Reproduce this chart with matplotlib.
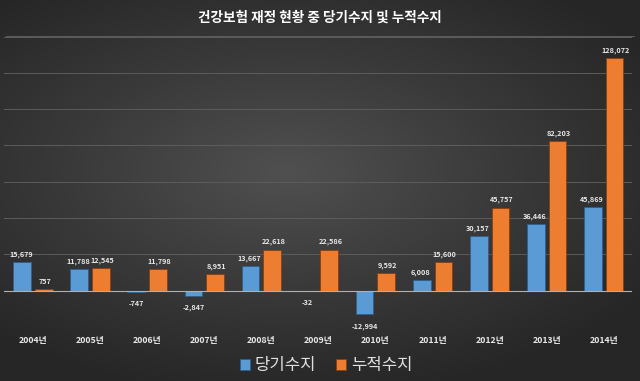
import matplotlib
matplotlib.use("Agg")
import matplotlib.pyplot as plt
import numpy as np

plt.rcParams['font.family'] = ['Noto Sans CJK KR', 'DejaVu Sans']

years = ["2004년", "2005년", "2006년", "2007년", "2008년", "2009년",
         "2010년", "2011년", "2012년", "2013년", "2014년"]
dangi = [15679, 11788, -747, -2847, 13667, -32, -12994, 6008, 30157, 36446, 45869]
nujeok = [757, 12545, 11798, 8951, 22618, 22586, 9592, 15600, 45757, 82203, 128072]

blue = "#5b9bd5"
orange = "#ed7d31"

fig = plt.figure(figsize=(6.4, 3.81), dpi=100)

# background: dark radial gradient
bg = fig.add_axes([0, 0, 1, 1])
yy, xx = np.mgrid[0:1:200j, 0:1:300j]
r = np.sqrt(((xx - 0.45) / 0.9) ** 2 + ((yy - 0.45) / 0.8) ** 2)
bg.imshow(r, cmap=matplotlib.colors.LinearSegmentedColormap.from_list(
    "bg", ["#505050", "#3a3a3a", "#262626"]), aspect="auto",
    extent=[0, 1, 0, 1], vmin=0, vmax=0.75)
bg.axis("off")

ax = fig.add_axes([0.007, 0.142, 0.981, 0.762])
ax.set_facecolor("none")
x = np.arange(len(years))
w = 0.31
b1 = ax.bar(x - 0.19, dangi, w, color=blue, edgecolor="#2e5f8c", linewidth=0.6, zorder=3)
b2 = ax.bar(x + 0.19, nujeok, w, color=orange, edgecolor="#8a3f10", linewidth=0.6, zorder=3)

ax.set_ylim(-20000, 140000)
ax.set_xlim(-0.5, len(years) - 0.5)
ax.set_yticks(np.arange(-20000, 140001, 20000))
ax.yaxis.grid(True, color="#5c5c5c", linewidth=0.7, zorder=0)
ax.axhline(0, color="#b0b0b0", linewidth=0.8, zorder=4)
ax.tick_params(left=False, labelleft=False, bottom=False, labelbottom=False)
for s in ax.spines.values():
    s.set_visible(False)

for bars, vals, dx in ((b1, dangi, -1), (b2, nujeok, 1)):
    for rect, v in zip(bars, vals):
        cx = rect.get_x() + rect.get_width() / 2
        if v >= 0:
            ax.annotate(f"{v:,}", (cx, v), xytext=(dx * 0.8, 3), textcoords="offset points",
                        ha="center", va="bottom", fontsize=5.2, fontweight="bold",
                        color="#e8e8e8")
        else:
            ax.annotate(f"{v:,}", (cx, v), xytext=(0, -6), textcoords="offset points",
                        ha="center", va="top", fontsize=5.2, fontweight="bold",
                        color="#e8e8e8")

for xi, lab in zip(x, years):
    ax.text(xi, -27500, lab, ha="center", va="center", fontsize=6.3,
            fontweight="bold", color="#e8e8e8")

fig.text(0.5, 0.955, "건강보험 재정 현황 중 당기수지 및 누적수지", ha="center", va="center",
         fontsize=9.8, fontweight="bold", color="white")
fig.add_artist(matplotlib.lines.Line2D([0.01, 0.99], [0.905, 0.905],
               color="#5c5c5c", linewidth=0.7))

leg = fig.legend([b1, b2], ["당기수지", "누적수지"], loc="center",
                 bbox_to_anchor=(0.51, 0.04), ncol=2, frameon=False,
                 fontsize=12, handlelength=0.6, handleheight=0.6,
                 handletextpad=0.3, columnspacing=1.2)
for t in leg.get_texts():
    t.set_color("#e0e0e0")

fig.savefig("out.png", dpi=100)
